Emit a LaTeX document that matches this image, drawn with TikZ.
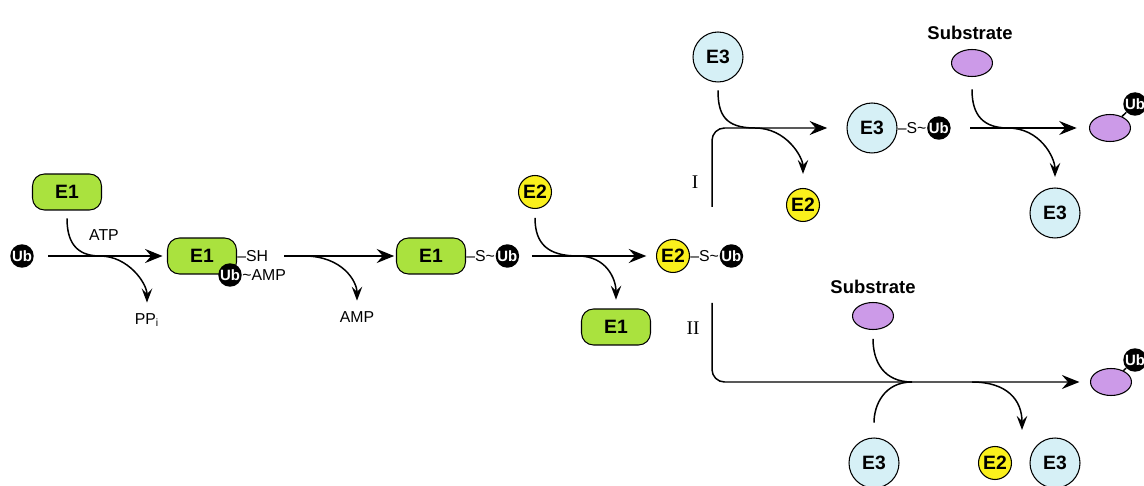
\documentclass[tikz,border=0pt]{standalone}
\usepackage{fontspec}
\setmainfont{Liberation Sans}
\newfontfamily\romfont{Liberation Serif}
\usepackage{tikz}
\usetikzlibrary{positioning,arrows.meta,shapes}

\definecolor{enzOne}{RGB}{170,226,62}
\definecolor{enzTwo}{RGB}{250,240,28}
\definecolor{enzThree}{RGB}{214,240,246}
\definecolor{substr}{RGB}{204,154,232}

\begin{document}
\begin{tikzpicture}[x=0.02cm, y=-0.02cm,
	e1box/.style={rectangle, draw=black, line width=0.6pt, fill=enzOne, minimum width=1.38cm, minimum height=0.72cm, rounded corners=0.24cm, font=\fontsize{11}{12}\selectfont\bfseries},
	e2ball/.style={circle, draw=black, line width=0.6pt, fill=enzTwo, minimum size=0.66cm, inner sep=0pt, font=\fontsize{11}{12}\selectfont\bfseries},
	e3ball/.style={circle, draw=black, line width=0.6pt, fill=enzThree, minimum size=1.0cm, inner sep=0pt, font=\fontsize{11}{12}\selectfont\bfseries},
	ubball/.style={circle, fill=black, minimum size=0.47cm, inner sep=0pt, text=white, font=\fontsize{8.5}{9}\selectfont\bfseries},
	subst/.style={ellipse, draw=black, line width=0.6pt, fill=substr, minimum width=0.82cm, minimum height=0.54cm, inner sep=0pt},
	lbl/.style={inner sep=0pt, font=\fontsize{9}{10}\selectfont},
	sublbl/.style={inner sep=0pt, font=\fontsize{10.5}{12}\selectfont\bfseries},
	roman/.style={inner sep=0pt, font=\fontsize{11}{12}\romfont},
	react/.style={-{Stealth[length=10pt, width=8pt, inset=3.5pt]}, line width=0.85pt},
	side/.style={-{Stealth[length=8pt, width=6pt, inset=3pt]}, line width=0.85pt},
	feedin/.style={line width=0.85pt}
	]
	\useasboundingbox (0,0) rectangle (1144,486);

	% E1 activation
	\node[e1box] (e1a) at (67,192) {E1};
	\node[ubball] (ub1) at (22,256) {Ub};
	\node[e1box] (e1b) at (202,256) {E1};
	\node[lbl, anchor=west] (sh) at (e1b.east) {--SH};
	\node[ubball] (ub2) at (230,275) {Ub};
	\node[lbl, anchor=west] (amp1) at (ub2.east) {\textasciitilde AMP};
	\node[lbl] (atp) at (104,235) {ATP};
	\node[lbl] (ppi) at (147,320) {PP\textsubscript{i}};
	\node[lbl] (amp2) at (357,317) {AMP};

	% E1 thioester
	\node[e1box] (e1c) at (431,256) {E1};
	\node[lbl, anchor=west] (s1) at (e1c.east) {--S\textasciitilde};
	\node[ubball, right=0pt of s1] (ub3) {Ub};
	\node[e2ball] (e2a) at (535,192) {E2};
	\node[e1box] (e1d) at (616,327) {E1};

	% E2 thioester
	\node[e2ball] (e2b) at (673,256) {E2};
	\node[lbl, anchor=west] (s2) at (e2b.east) {--S\textasciitilde};
	\node[ubball, right=0pt of s2] (ub4) {Ub};
	\node[roman] (romI) at (695,182) {I};
	\node[roman] (romII) at (693,328) {II};
	\coordinate (forkI) at (712,207);
	\coordinate (forkII) at (712,303);

	% route I
	\node[e3ball] (e3a) at (718,57) {E3};
	\node[e2ball] (e2c) at (803,205) {E2};
	\node[e3ball] (e3b) at (872,128) {E3};
	\node[lbl, anchor=west] (s3) at (e3b.east) {--S\textasciitilde};
	\node[ubball, right=0pt of s3] (ub5) {Ub};
	\node[sublbl] (subtxt1) at (970,33) {Substrate};
	\node[subst] (sub1) at (972,63) {};
	\node[e3ball] (e3c) at (1055,213) {E3};
	\node[subst] (sub2) at (1110,128) {};
	\node[ubball] (ub6) at (1135,104) {Ub};
	\draw[line width=0.85pt] (sub2) -- (ub6);

	% route II
	\node[sublbl] (subtxt2) at (873,287) {Substrate};
	\node[subst] (sub3) at (873,316) {};
	\node[e3ball] (e3d) at (874,463) {E3};
	\node[e2ball] (e2d) at (995,463) {E2};
	\node[e3ball] (e3e) at (1055,463) {E3};
	\node[subst] (sub4) at (1111,382) {};
	\node[ubball] (ub7) at (1135,360) {Ub};
	\draw[line width=0.85pt] (sub4) -- (ub7);
	\coordinate (mergeII) at (912,382);
	\coordinate (splitII) at (972,382);
	\coordinate (relII) at (1022,430);

	% main arrows
	\draw[react, shorten <=8pt, shorten >=2.5pt] (ub1) -- (e1b);
	\draw[react, shorten <=9pt, shorten >=1pt] (sh) -- (e1c) coordinate[pos=0.28] (br2);
	\draw[react, shorten <=7pt, shorten >=5.5pt] (ub3) -- (e2b);
	\draw[react, rounded corners=0.25cm, shorten >=11pt] (forkI) |- (e3b.west);
	\draw[react, shorten <=11pt, shorten >=7pt] (ub5) -- (sub2);
	\draw[react, rounded corners=0.25cm, shorten >=6pt] (forkII) |- (sub4.west);

	% side arrows
	\draw[side, shorten <=4.5pt, shorten >=6pt] (e1a.south) .. controls +(0,30) and +(-25,0) .. (100,256) .. controls +(28,0) and +(0,-30) .. (ppi.north);
	\draw[side, shorten >=6pt] (br2) .. controls +(38,0) and +(0,-30) .. (amp2.north);
	\draw[side, shorten <=5pt, shorten >=5pt] (e2a.south) .. controls +(0,35) and +(-30,0) .. (578,256) .. controls +(28,0) and +(0,-30) .. (e1d.north);
	\draw[side, shorten <=4.5pt, shorten >=8pt] (e3a.south) .. controls +(0,32) and +(-30,0) .. (755,128) .. controls +(32,0) and +(0,-30) .. (e2c.north);
	\draw[side, shorten <=7pt, shorten >=6pt] (sub1.south) .. controls +(0,32) and +(-30,0) .. (1008,128) .. controls +(32,0) and +(0,-30) .. (e3c.north);
	\draw[feedin, shorten <=5pt] (sub3.south) .. controls +(0,32) and +(-28,0) .. (mergeII);
	\draw[feedin, shorten <=8.5pt] (e3d.north) .. controls +(0,-32) and +(-28,0) .. (mergeII);
	\draw[side] (splitII) .. controls +(35,0) and +(0,-30) .. (relII);
\end{tikzpicture}
\end{document}
